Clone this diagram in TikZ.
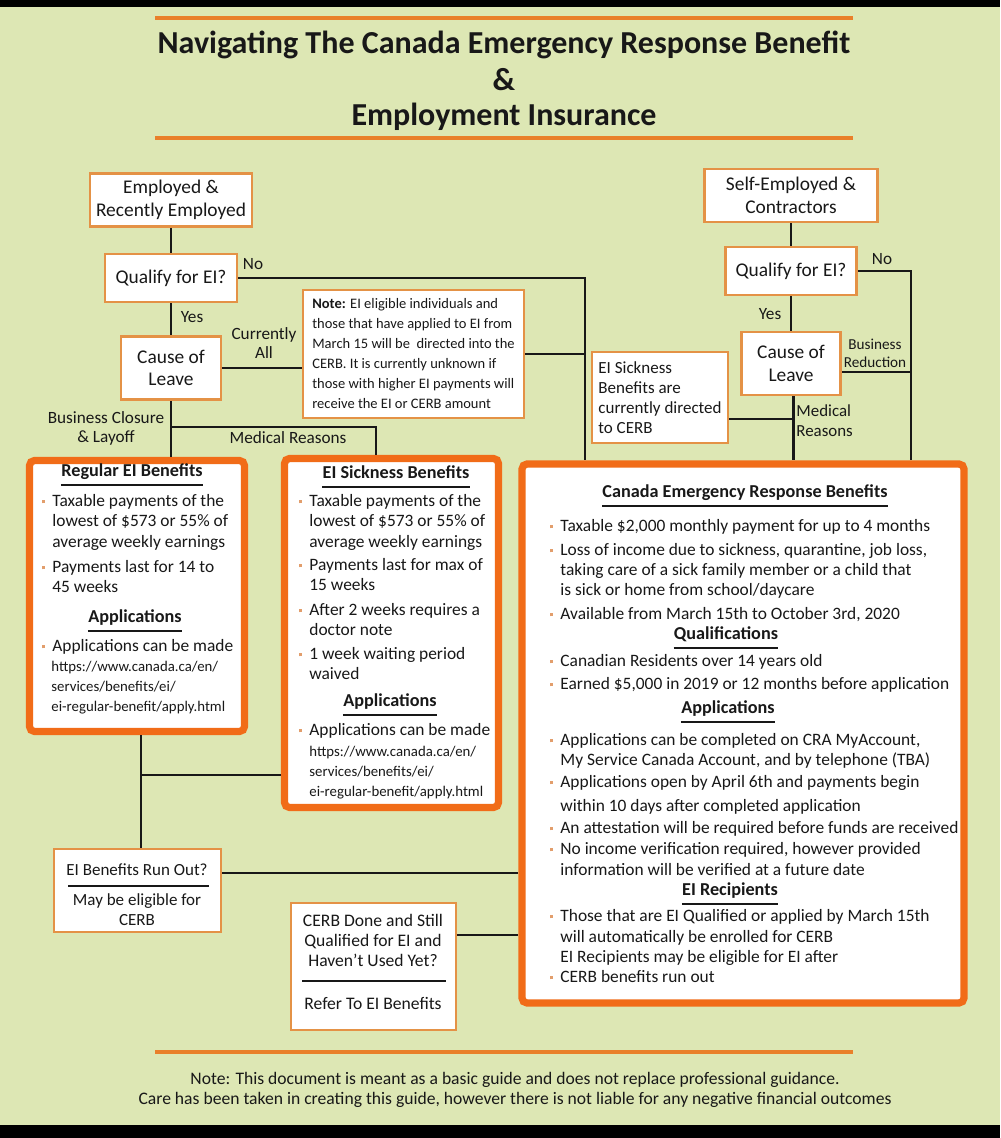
\documentclass[tikz,border=0pt]{standalone}
\usepackage{fontspec}
\setmainfont{Carlito}
\usepackage{xcolor}
\usetikzlibrary{positioning, fit}
\definecolor{paleolive}{RGB}{221,231,180}
\definecolor{tanorange}{RGB}{228,146,70}
\definecolor{boldorange}{RGB}{241,108,24}
\definecolor{ruleorange}{RGB}{233,128,42}
\definecolor{ink}{RGB}{24,24,24}
\definecolor{dotorange}{RGB}{226,158,108}
\newcommand{\fs}[2]{\fontsize{#1}{#2}\selectfont}
\newcommand{\bl}{\llap{\textcolor{dotorange}{\raisebox{0.35ex}{\rule{1.8pt}{1.8pt}}}\hspace{3.6pt}}}
\newcommand{\uln}[1]{\draw[uline] ([yshift=-2.3pt]#1.south west) -- ([yshift=-2.3pt]#1.south east);}

\begin{document}
\begin{tikzpicture}[x=0.5pt, y=-0.5pt,
    smallbox/.style={rectangle, draw=tanorange, line width=1.4pt, fill=white, align=center,
                     inner sep=2pt, text=ink, font=\fs{9.7}{11.2}},
    bigbox/.style={rectangle, draw=boldorange, line width=3.6pt, fill=white,
                   rounded corners=2.5pt, inner sep=0pt},
    txt/.style={anchor=west, inner sep=0pt, text height=6pt, text depth=1.8pt, text=ink, font=\fs{8.7}{10}},
    url/.style={txt, font=\fs{7.4}{10}},
    head/.style={inner sep=0pt, text height=6pt, text depth=1.8pt, text=ink, font=\bfseries\fs{9.1}{10}},
    lbl/.style={inner sep=0pt, text=ink, font=\fs{8.6}{9.6}, align=center},
    titletext/.style={inner sep=0pt, text=ink, font=\bfseries\fs{16}{18}},
    link/.style={draw=ink, line width=1.4pt},
    uline/.style={draw=ink, line width=1.1pt}
]
% page
\fill[paleolive] (0,0) rectangle (1000,1138);
\fill[black] (0,0) rectangle (1000,7);
\fill[black] (0,1125) rectangle (1000,1138);

% title
\draw[ruleorange, line width=2.4pt] (155,18) -- (853,18);
\node[titletext] (title1) at (504,45) {Navigating The Canada Emergency Response Benefit};
\node[titletext] (title2) at (504,80) {\&};
\node[titletext] (title3) at (504,117) {Employment Insurance};
\draw[ruleorange, line width=2.4pt] (155,138) -- (853,138);

% left column
\node[smallbox, minimum width=81pt, minimum height=26.5pt] (emp) at (171,200) {Employed \&\\Recently Employed};
\node[smallbox, minimum width=66pt, minimum height=24pt] (qualL) at (171,278) {Qualify for EI?};
\node[smallbox, minimum width=50pt, minimum height=31.5pt] (causeL) at (171,368) {Cause of\\Leave};
\node[smallbox, minimum width=110.5pt, minimum height=64pt, align=left, font=\fs{7.25}{10}] (note) at (413.5,354)
    {\textbf{Note:} EI eligible individuals and\\those that have applied to EI from\\March 15 will be\ \ directed into the\\CERB. It is currently unknown if\\those with higher EI payments will\\receive the EI or CERB amount};

% right column
\node[smallbox, minimum width=86.5pt, minimum height=26.5pt] (selfemp) at (791,195.5) {Self-Employed \&\\Contractors};
\node[smallbox, minimum width=65.5pt, minimum height=24pt] (qualR) at (791,271) {Qualify for EI?};
\node[smallbox, minimum width=49.5pt, minimum height=31.5pt] (causeR) at (791,363.5) {Cause of\\Leave};
\node[smallbox, minimum width=68pt, minimum height=45.5pt, align=left, font=\fs{8.5}{10}] (sicknote) at (660,397.5)
    {EI Sickness\\Benefits are\\currently directed\\to CERB};

% benefit boxes
\node[bigbox, fit={(29.5,460.5) (244.5,731.5)}] (regular) {};
\node[bigbox, fit={(284.5,458.5) (498.5,807.5)}] (sick) {};
\node[bigbox, fit={(522,464) (964,1003)}] (cerb) {};

% lower boxes
\node[smallbox, minimum width=83.5pt, minimum height=41.5pt] (runout) at (137.5,890.5) {};
\node[smallbox, minimum width=82.5pt, minimum height=63.5pt] (cerbdone) at (373.5,966.5) {};

% Regular EI text
\node[head] (reghead) at (132,472) {Regular EI Benefits};
\uln{reghead}
\foreach \y/\t [count=\i] in {502/{\bl Taxable payments of the}, 522/{lowest of \$573 or 55\% of},
    543/{average weekly earnings}, 568/{\bl Payments last for 14 to}, 588/{45 weeks},
    647/{\bl Applications can be made}}
  \node[txt] (reg\i) at (52,\y) {\t};
\node[head] (regapp) at (135,618) {Applications};
\uln{regapp}
\foreach \y/\t [count=\i] in {667/{https://www.canada.ca/en/}, 687/{services/benefits/ei/},
    707/{ei-regular-benefit/apply.html}}
  \node[url] (regurl\i) at (51,\y) {\t};

% EI Sickness text
\node[head] (sickhead) at (396,474) {EI Sickness Benefits};
\uln{sickhead}
\foreach \y/\t [count=\i] in {502/{\bl Taxable payments of the}, 522/{lowest of \$573 or 55\% of},
    543/{average weekly earnings}, 566/{\bl Payments last for max of}, 586/{15 weeks},
    611/{\bl After 2 weeks requires a}, 631/{doctor note}, 655/{\bl 1 week waiting period},
    675/{waived}, 731/{\bl Applications can be made}}
  \node[txt] (sk\i) at (309,\y) {\t};
\node[head] (sickapp) at (390,702) {Applications};
\uln{sickapp}
\foreach \y/\t [count=\i] in {752/{https://www.canada.ca/en/}, 772/{services/benefits/ei/},
    792/{ei-regular-benefit/apply.html}}
  \node[url] (skurl\i) at (309,\y) {\t};

% CERB text
\node[head] (cerbhead) at (745,493) {Canada Emergency Response Benefits};
\uln{cerbhead}
\node[head] (cerbqual) at (726,635) {Qualifications};
\uln{cerbqual}
\node[head] (cerbapp) at (728,709) {Applications};
\uln{cerbapp}
\node[head] (cerbrec) at (730,891) {EI Recipients};
\uln{cerbrec}
\foreach \y/\t [count=\i] in {527/{\bl Taxable \$2,000 monthly payment for up to 4 months},
    551/{\bl Loss of income due to sickness, quarantine, job loss,},
    571/{taking care of a sick family member or a child that},
    591/{is sick or home from school/daycare},
    615/{\bl Available from March 15th to October 3rd, 2020},
    662/{\bl Canadian Residents over 14 years old},
    685/{\bl Earned \$5,000 in 2019 or 12 months before application},
    741/{\bl Applications can be completed on CRA MyAccount,},
    761/{My Service Canada Account, and by telephone (TBA)},
    783/{\bl Applications open by April 6th and payments begin},
    807/{within 10 days after completed application},
    829/{\bl An attestation will be required before funds are received},
    850/{\bl No income verification required, however provided},
    871/{information will be verified at a future date},
    917/{\bl Those that are EI Qualified or applied by March 15th},
    938/{will automatically be enrolled for CERB},
    958/{EI Recipients may be eligible for EI after},
    978/{\bl CERB benefits run out}}
  \node[txt] (cb\i) at (560,\y) {\t};

% lower box text
\node[lbl, font=\fs{8.5}{10}] (runq) at (137,870) {EI Benefits Run Out?};
\draw[uline] (68,886) -- (209,886);
\node[lbl, font=\fs{8.5}{10}] (runa) at (137,910) {May be eligible for\\CERB};
\node[lbl, font=\fs{8.8}{10.2}] (doneq) at (373,940.5) {CERB Done and Still\\Qualified for EI and\\Haven't Used Yet?};
\draw[uline] (302,981) -- (446,981);
\node[lbl, font=\fs{8.8}{10.2}] (donea) at (373,1003) {Refer To EI Benefits};

% connectors, left
\coordinate (dropL) at (585,277);
\coordinate (dropR) at (911,274);
\coordinate (medL) at (376,427);
\coordinate (appjoin) at (141,775);
\draw[link] (emp.south) -- (qualL.north);
\draw[link] (qualL.east) -- (qualL.east -| dropL) -- (dropL |- cerb.north);
\node[lbl] (noL) at (253,264) {No};
\draw[link] (qualL.south) -- (causeL.north);
\node[lbl] (yesL) at (192,317) {Yes};
\draw[link] (causeL.east) -- (causeL.east -| note.west);
\node[lbl] (curall) at (264,343) {Currently\\All};
\draw[link] (note.east) -- (note.east -| dropL);
\draw[link] (causeL.south) -- (causeL.south |- regular.north);
\node[lbl] (closure) at (106,428.5) {Business Closure\\\& Layoff};
\draw[link] (causeL.south |- medL) -- (medL) -- (medL |- sick.north);
\node[lbl] (medlbl) at (288,438) {Medical Reasons};
\draw[link] (regular.south -| appjoin) -- (appjoin |- runout.north);
\draw[link] (appjoin) -- (appjoin -| sick.west);
\draw[link] ([yshift=8.75pt]runout.east) -- ([yshift=8.75pt]runout.east -| cerb.west);
\draw[link] ([yshift=15.75pt]cerbdone.east) -- ([yshift=15.75pt]cerbdone.east -| cerb.west);

% connectors, right
\draw[link] (selfemp.south) -- (qualR.north);
\draw[link] (qualR.east) -- (qualR.east -| dropR) -- (dropR |- cerb.north);
\node[lbl] (noR) at (882,259) {No};
\draw[link] (qualR.south) -- (causeR.north);
\node[lbl] (yesR) at (770,314) {Yes};
\draw[link] ([yshift=-4.25pt]causeR.east) -- ([yshift=-4.25pt]causeR.east -| dropR);
\node[lbl, font=\fs{7.6}{9}] (bizred) at (875,353) {Business\\Reduction};
\draw[link] ([xshift=1.2pt]causeR.south) -- ([xshift=1.2pt]causeR.south |- cerb.north);
\node[lbl, align=left, anchor=west, font=\fs{8.45}{10}] (medR) at (796,421) {Medical\\Reasons};
\draw[link] ([yshift=-10.75pt]sicknote.east) -- ([yshift=-10.75pt,xshift=1.2pt]sicknote.east -| causeR.south);

% footer
\draw[ruleorange, line width=2.4pt] (155,1052) -- (853,1052);
\node[lbl, font=\fs{8.8}{10}] (foot) at (515,1090) {Note: This document is meant as a basic guide and does not replace professional guidance.\\Care has been taken in creating this guide, however there is not liable for any negative financial outcomes};
\end{tikzpicture}
\end{document}
